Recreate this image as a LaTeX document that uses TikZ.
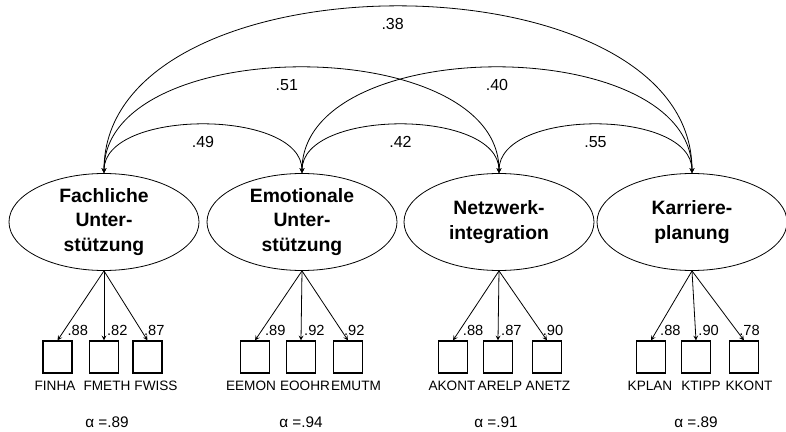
\documentclass[tikz,border=0pt]{standalone}
\usepackage{fontspec}
\setmainfont{Liberation Sans}
\usetikzlibrary{shapes.geometric}

\begin{document}
\begin{tikzpicture}[
    x=0.75pt, y=-0.75pt,
    latent/.style={draw, ellipse, line width=0.6pt, minimum width=142.5pt, minimum height=72.75pt, inner sep=0pt, align=center, font=\fontsize{14.5}{18.5}\selectfont\bfseries},
    indicator/.style={draw, line width=0.9pt, minimum width=21.75pt, minimum height=24pt, inner sep=0pt},
    itemname/.style={font=\fontsize{10.2}{12}\selectfont, inner sep=1pt},
    loading/.style={font=\fontsize{11}{13}\selectfont, inner sep=0.5pt, anchor=west, pos=0.85, xshift=1.5pt},
    corrval/.style={font=\fontsize{12}{14}\selectfont, below=5pt, pos=0.5},
    reliab/.style={font=\fontsize{11.5}{13}\selectfont},
    arrow/.style={->, >=stealth, line width=0.6pt},
    corr/.style={<->, >=stealth, line width=0.6pt}
]
\useasboundingbox (0,0) rectangle (786,432);

% Latent factors
\node[latent] (fach) at (104, 222) {Fachliche\\Unter-\\stützung};
\node[latent] (emo) at (302, 222) {Emotionale\\Unter-\\stützung};
\node[latent] (netz) at (499, 222) {Netzwerk-\\integration};
\node[latent] (karr) at (692, 222) {Karriere-\\planung};

% Indicators
\node[indicator] (finha) at (57.5, 357) {};
\node[indicator] (fmeth) at (104, 357) {};
\node[indicator] (fwiss) at (147.5, 357) {};
\node[indicator] (eemon) at (255, 357) {};
\node[indicator] (eoohr) at (301, 357) {};
\node[indicator] (emutm) at (348, 357) {};
\node[indicator] (akont) at (453, 357) {};
\node[indicator] (arelp) at (498, 357) {};
\node[indicator] (anetz) at (547, 357) {};
\node[indicator] (kplan) at (651, 357) {};
\node[indicator] (ktipp) at (696, 357) {};
\node[indicator] (kkont) at (744, 357) {};

% Indicator names
\node[itemname] (finhaL) at (55, 386) {FINHA};
\node[itemname] (fmethL) at (107, 386) {FMETH};
\node[itemname] (fwissL) at (156, 386) {FWISS};
\node[itemname] (eemonL) at (251, 386) {EEMON};
\node[itemname] (eoohrL) at (305, 386) {EOOHR};
\node[itemname] (emutmL) at (356, 386) {EMUTM};
\node[itemname] (akontL) at (452, 386) {AKONT};
\node[itemname] (arelpL) at (500, 386) {ARELP};
\node[itemname] (anetzL) at (548, 386) {ANETZ};
\node[itemname] (kplanL) at (650, 386) {KPLAN};
\node[itemname] (ktippL) at (701, 386) {KTIPP};
\node[itemname] (kkontL) at (749, 386) {KKONT};

% Reliabilities
\node[reliab] (alphaF) at (107, 422) {α =.89};
\node[reliab] (alphaE) at (301, 422) {α =.94};
\node[reliab] (alphaN) at (496, 422) {α =.91};
\node[reliab] (alphaK) at (696, 422) {α =.89};

% Loadings
\draw[arrow] (fach.south) -- node[loading] {.88} (finha.north);
\draw[arrow] (fach.south) -- node[loading] {.82} (fmeth.north);
\draw[arrow] (fach.south) -- node[loading] {.87} (fwiss.north);
\draw[arrow] (emo.south) -- node[loading] {.89} (eemon.north);
\draw[arrow] (emo.south) -- node[loading] {.92} (eoohr.north);
\draw[arrow] (emo.south) -- node[loading] {.92} (emutm.north);
\draw[arrow] (netz.south) -- node[loading] {.88} (akont.north);
\draw[arrow] (netz.south) -- node[loading] {.87} (arelp.north);
\draw[arrow] (netz.south) -- node[loading] {.90} (anetz.north);
\draw[arrow] (karr.south) -- node[loading] {.88} (kplan.north);
\draw[arrow] (karr.south) -- node[loading] {.90} (ktipp.north);
\draw[arrow] (karr.south) -- node[loading] {.78} (kkont.north);

% Correlations
\draw[corr] (fach.north) .. controls +(0,-64.7) and +(0,-64.7) .. node[corrval] {.49} (emo.north);
\draw[corr] (emo.north) .. controls +(0,-64.7) and +(0,-64.7) .. node[corrval] {.42} (netz.north);
\draw[corr] (netz.north) .. controls +(0,-64.7) and +(0,-64.7) .. node[corrval] {.55} (karr.north);
\draw[corr] (fach.north) .. controls +(0,-140.7) and +(0,-140.7) .. node[corrval, xshift=-11pt] {.51} (netz.north);
\draw[corr] (emo.north) .. controls +(0,-140.7) and +(0,-140.7) .. node[corrval] {.40} (karr.north);
\draw[corr] (fach.north) .. controls +(0,-222) and +(0,-222) .. node[corrval, xshift=-4pt] {.38} (karr.north);
\end{tikzpicture}
\end{document}
